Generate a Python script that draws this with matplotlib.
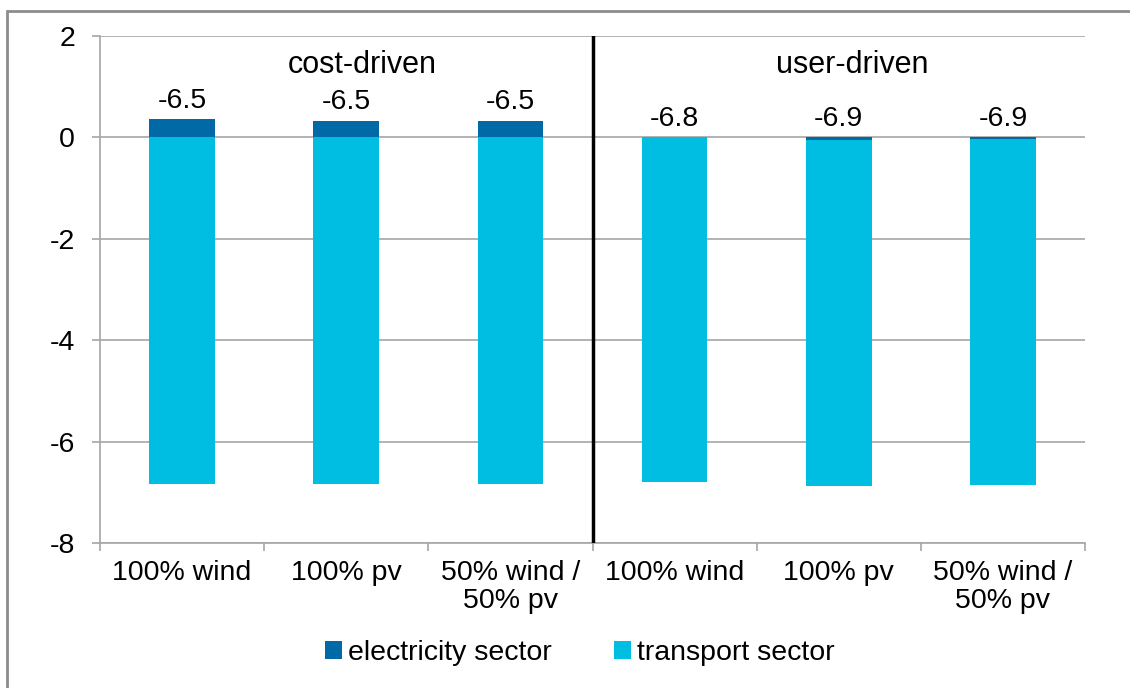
import matplotlib.pyplot as plt
from matplotlib.patches import Rectangle

# data
categories = ["100% wind", "100% pv", "50% wind /\n50% pv",
              "100% wind", "100% pv", "50% wind /\n50% pv"]
groups = ["cost-driven", "user-driven"]
electricity = [0.36, 0.33, 0.33, 0.0, -0.06, -0.04]
transport = [-6.83, -6.83, -6.83, -6.80, -6.82, -6.82]

dark_blue = "#0069A6"
cyan = "#00BEE2"
grid_grey = "#A6A6A6"

plt.rcParams["font.family"] = ["Liberation Sans", "DejaVu Sans"]
plt.rcParams["axes.unicode_minus"] = False

fig = plt.figure(figsize=(11.3, 6.88), dpi=100)
ax = fig.add_axes([100 / 1130, 1 - 543 / 688, 985 / 1130, 507 / 688])

x = list(range(len(categories)))
width = 0.4

elec_bottom = [0] * len(electricity)
trans_bottom = [min(0, e) for e in electricity]

ax.bar(x, electricity, width, bottom=elec_bottom, color=dark_blue,
       label="electricity sector", zorder=3)
ax.bar(x, transport, width, bottom=trans_bottom, color=cyan,
       label="transport sector", zorder=3)

# total labels above the bars
for i in x:
    total = electricity[i] + transport[i]
    top = max(0, electricity[i])
    ax.annotate(f"{total:.1f}", (i, top), xytext=(0, 4),
                textcoords="offset points", ha="center", va="bottom",
                fontsize=20.5)

# group labels and separator
ax.text(1.1, 1.42, groups[0], ha="center", va="center", fontsize=22)
ax.text(4.08, 1.42, groups[1], ha="center", va="center", fontsize=22)
ax.axvline(2.5, color="black", lw=2.5, zorder=4)

ax.set_xlim(-0.5, 5.5)
ax.set_ylim(-8, 2)
ax.set_yticks([2, 0, -2, -4, -6, -8])
ax.yaxis.grid(True, color=grid_grey, lw=1.2, zorder=0)

ax.set_xticks(x)
ax.set_xticklabels(categories, fontsize=20.5, linespacing=1.1)
ax.set_xticks([i - 0.5 for i in range(len(categories) + 1)], minor=True)
ax.tick_params(axis="x", which="major", length=0, pad=12)
ax.tick_params(axis="x", which="minor", length=6, color=grid_grey, width=1.2)
ax.tick_params(axis="y", length=6, color=grid_grey, width=1.2, pad=12,
               labelsize=20.5)

for side in ["top", "right"]:
    ax.spines[side].set_visible(False)
ax.spines["left"].set_color(grid_grey)
ax.spines["bottom"].set_color(grid_grey)
ax.spines["left"].set_linewidth(1.2)
ax.spines["bottom"].set_linewidth(1.2)

fig.legend(loc="center", bbox_to_anchor=(580 / 1130, 0.051), ncol=2,
           frameon=False, fontsize=20.5, handlelength=0.6, handleheight=0.6,
           handletextpad=0.2, columnspacing=2.2)

# chart area border (top and left edges visible)
fig.patches.append(Rectangle((7 / 1130, -0.2), 1.5, 1.2 - 11 / 688,
                             transform=fig.transFigure, fill=False,
                             edgecolor="#8C8C8C", lw=2))

fig.savefig("out.png", dpi=100)
